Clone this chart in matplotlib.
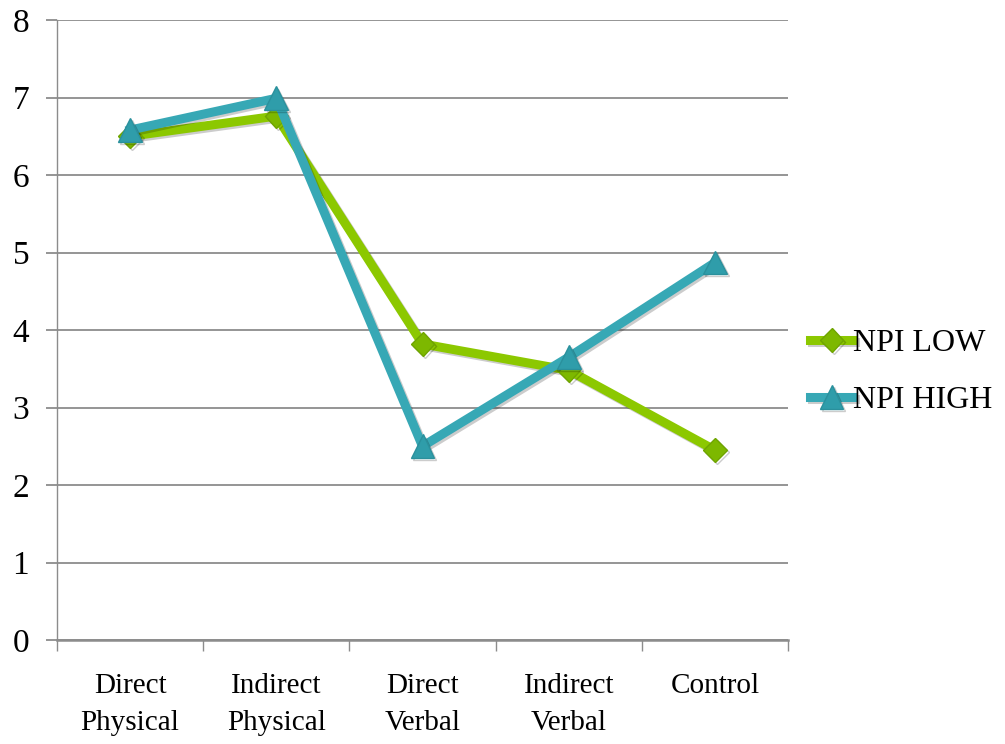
import matplotlib
matplotlib.use("Agg")
import matplotlib.pyplot as plt
import matplotlib.patheffects as pe
from matplotlib.ticker import FixedLocator

categories = ["Direct\nPhysical", "Indirect\nPhysical", "Direct\nVerbal", "Indirect\nVerbal", "Control"]
npi_low = [6.50, 6.76, 3.82, 3.48, 2.45]
npi_high = [6.58, 6.99, 2.50, 3.65, 4.87]
y_ticks = [0, 1, 2, 3, 4, 5, 6, 7, 8]

plt.rcParams["font.family"] = ["Liberation Serif", "DejaVu Serif"]

fig = plt.figure(figsize=(10.05, 7.44), dpi=100)
ax = fig.add_axes([57 / 1005, 1 - 640 / 744, (788 - 57) / 1005, (640 - 20) / 744])

x = list(range(len(categories)))
green = "#8CC800"
teal = "#37A8B5"
shadow = [pe.SimpleLineShadow(offset=(1.5, -1.5), alpha=0.2, shadow_color="black"), pe.Normal()]

ax.plot(x, npi_low, color=green, lw=6.5, marker="D", markersize=12,
        markerfacecolor="#7DB800", markeredgecolor="#6FA500", markeredgewidth=1,
        label="NPI LOW", solid_joinstyle="miter", zorder=3, path_effects=shadow)
ax.plot(x, npi_high, color=teal, lw=6.5, marker="^", markersize=17,
        markerfacecolor="#2F9DAA", markeredgecolor="#2A909C", markeredgewidth=1,
        label="NPI HIGH", solid_joinstyle="miter", zorder=4, path_effects=shadow)

ax.set_xlim(-0.5, len(categories) - 0.5)
ax.set_ylim(0, 8)
ax.set_yticks(y_ticks)
ax.yaxis.grid(True, color="#8C8C8C", lw=1.3)
ax.set_axisbelow(True)

# category boundaries carry the tick marks, centres carry the labels
ax.xaxis.set_major_locator(FixedLocator([i - 0.5 for i in range(len(categories) + 1)]))
ax.xaxis.set_minor_locator(FixedLocator(x))
ax.set_xticklabels([])
ax.set_xticklabels(categories, minor=True, fontsize=21, linespacing=1.55)
ax.tick_params(axis="x", which="major", length=8, width=1.0, color="#8C8C8C", direction="out")
ax.tick_params(axis="x", which="minor", length=0, pad=24)
ax.tick_params(axis="y", length=8, width=1.3, color="#8C8C8C", labelsize=24, pad=12)

for s in ["top", "right"]:
    ax.spines[s].set_visible(False)
ax.spines["left"].set_color("#8C8C8C")
ax.spines["left"].set_linewidth(1.0)
ax.spines["bottom"].set_color("#8C8C8C")
ax.spines["bottom"].set_linewidth(1.8)

leg = ax.legend(loc="center left", bbox_to_anchor=(810 / 1005, 1 - 372 / 744),
                bbox_transform=fig.transFigure, frameon=False, fontsize=23,
                handlelength=1.35, handletextpad=0.0, labelspacing=0.85,
                borderpad=0, borderaxespad=0)

fig.savefig("out.png", dpi=100)
